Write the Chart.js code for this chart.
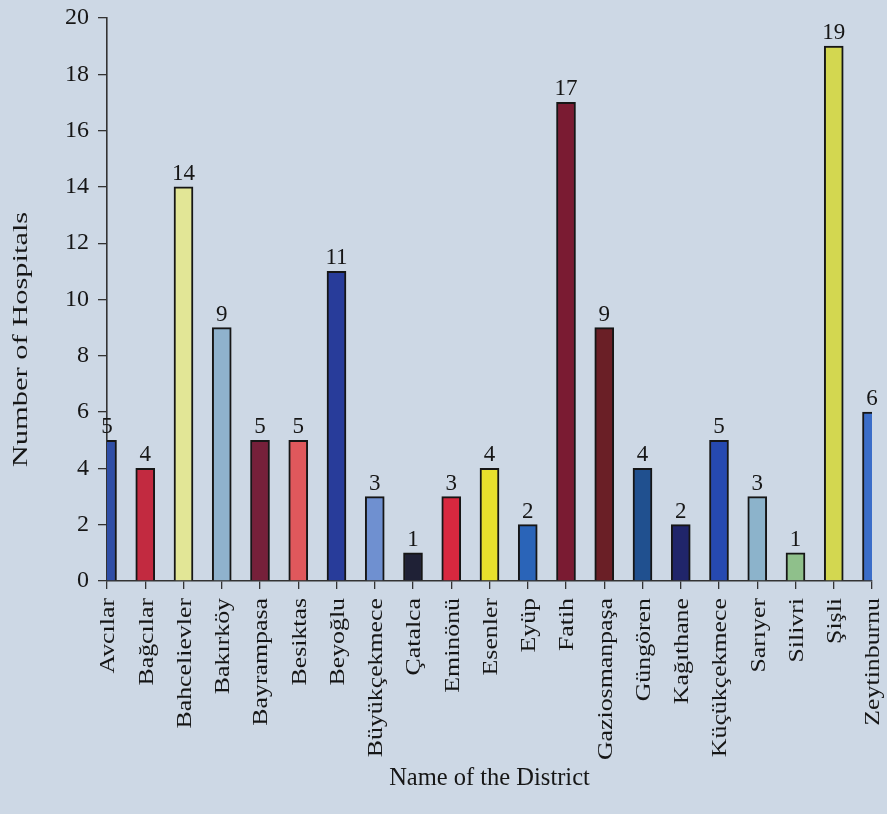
<!DOCTYPE html>
<html>
<head>
<meta charset="utf-8">
<script src="https://cdn.jsdelivr.net/npm/chart.js@4.4.1/dist/chart.umd.min.js"></script>
<style>
html,body{margin:0;padding:0;background:#cdd8e5;overflow:hidden}
canvas{display:block}
</style>
</head>
<body>
<canvas id="c" width="887" height="814" style="width:887px;height:814px"></canvas>
<script>
const districts = ['Avcılar','Bağcılar','Bahcelievler','Bakırköy','Bayrampasa','Besiktas','Beyoğlu','Büyükçekmece','Çatalca','Eminönü','Esenler','Eyüp','Fatih','Gaziosmanpaşa','Güngören','Kağıthane','Küçükçekmece','Sarıyer','Silivri','Şişli','Zeytinburnu'];
const hospitals = [5,4,14,9,5,5,11,3,1,3,4,2,17,9,4,2,5,3,1,19,6];
const barColors = ['#2f4ea6','#c22a40','#e2e696','#8fb2cd','#76203a','#e0585c','#283c9a','#6f90d0','#1f2136','#d8283f','#e8e02c','#2a64b8','#7a1b32','#6a1f26','#20508f','#20256a','#2649b0','#8cb3cb','#8fc08b','#d3d750','#3b6dc8'];
const yTicks = [0,2,4,6,8,10,12,14,16,18,20];
const xTitle = 'Name of the District';
const yTitle = 'Number of Hospitals';

const FONT = '"Liberation Serif", "Times New Roman", serif';
const INK = '#161616';

const valueLabels = {
  id: 'valueLabels',
  afterDatasetsDraw(chart) {
    const ctx = chart.ctx;
    const meta = chart.getDatasetMeta(0);
    ctx.save();
    ctx.font = '23px ' + FONT;
    ctx.fillStyle = INK;
    ctx.textAlign = 'center';
    ctx.textBaseline = 'alphabetic';
    meta.data.forEach((bar, i) => {
      ctx.fillText(String(hospitals[i]), bar.x, bar.y - 7);
    });
    ctx.restore();
  }
};

const rotatedLabels = {
  id: 'rotatedLabels',
  afterDraw(chart) {
    const ctx = chart.ctx;
    const sx = chart.scales.x;
    const sy = chart.scales.y;
    ctx.save();
    ctx.fillStyle = INK;
    ctx.font = '20.5px ' + FONT;
    ctx.textAlign = 'right';
    ctx.textBaseline = 'middle';
    districts.forEach((d, i) => {
      const x = sx.getPixelForTick(i);
      ctx.save();
      ctx.translate(x + 2, sx.top + 17);
      ctx.rotate(-Math.PI / 2);
      ctx.scale(1.26, 1);
      ctx.fillText(d, 0, 0);
      ctx.restore();
    });
    // y axis title
    ctx.font = '21px ' + FONT;
    ctx.textAlign = 'center';
    ctx.save();
    ctx.translate(21, (sy.top + sy.bottom) / 2 + 40);
    ctx.rotate(-Math.PI / 2);
    ctx.scale(1.45, 1);
    ctx.fillText(yTitle, 0, 0);
    ctx.restore();
    ctx.restore();
  }
};

new Chart(document.getElementById('c'), {
  type: 'bar',
  data: {
    labels: districts,
    datasets: [{
      data: hospitals,
      backgroundColor: barColors,
      borderColor: INK,
      borderWidth: 2,
      borderSkipped: 'bottom',
      barThickness: 19
    }]
  },
  options: {
    responsive: false,
    devicePixelRatio: 1,
    animation: false,
    layout: { padding: { left: 0, right: 15, top: 18, bottom: 0 } },
    plugins: { legend: { display: false }, tooltip: { enabled: false } },
    scales: {
      x: {
        type: 'category',
        offset: false,
        afterFit(s) { s.height = 233; s.paddingLeft = 0; s.paddingRight = 0; },
        grid: { display: true, offset: false, drawOnChartArea: false, drawTicks: true, tickLength: 8, color: '#333', lineWidth: 1.3 },
        border: { display: true, color: '#333', width: 1.6 },
        ticks: { display: false },
        title: { display: true, text: xTitle, color: INK, font: { family: FONT, size: 24.5 }, padding: { top: 0, bottom: 21 } }
      },
      y: {
        min: 0,
        max: 20,
        afterFit(s) { s.width = 107; s.paddingTop = 0; s.paddingBottom = 0; },
        afterBuildTicks(s) { s.ticks = yTicks.map(v => ({ value: v })); },
        grid: { display: true, drawOnChartArea: false, drawTicks: true, tickLength: 9, color: '#333', lineWidth: 1.3 },
        border: { display: true, color: '#333', width: 1.6 },
        ticks: { color: INK, padding: 9, font: { family: FONT, size: 24 } },
        title: { display: false }
      }
    }
  },
  plugins: [valueLabels, rotatedLabels]
});
</script>
</body>
</html>
